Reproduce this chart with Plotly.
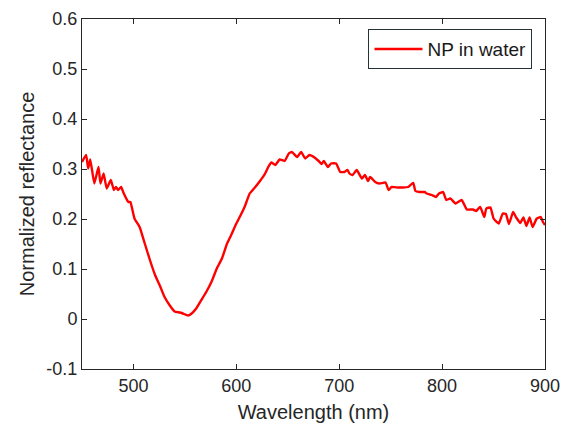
import plotly.graph_objects as go

# spectrum
wavelength = [450, 454, 456, 458, 462, 466, 468, 471, 474, 478, 481, 483, 485, 488,
              490, 493, 495, 497, 501, 506, 511, 516, 521, 526, 530, 535, 540, 545,
              548, 553, 556, 561, 566, 571, 576, 581, 586, 591, 595, 600, 605, 608,
              613, 618, 623, 628, 631, 634, 638, 642, 647, 651, 654, 659, 663, 667,
              671, 676, 680, 683, 685, 689, 692, 697, 701, 705, 708, 710, 713, 717,
              722, 725, 728, 730, 735, 739, 745, 748, 751, 757, 762, 767, 772, 774,
              778, 783, 785, 790, 794, 797, 801, 804, 808, 813, 819, 824, 830, 833,
              837, 841, 843, 847, 850, 855, 859, 862, 865, 869, 872, 876, 879, 882,
              885, 888, 892, 896, 898, 900]
reflectance = [0.314, 0.328, 0.301, 0.319, 0.271, 0.304, 0.271, 0.291, 0.261, 0.278,
               0.258, 0.264, 0.258, 0.264, 0.254, 0.241, 0.234, 0.234, 0.201, 0.184,
               0.151, 0.118, 0.088, 0.065, 0.045, 0.028, 0.015, 0.013, 0.011, 0.007,
               0.010, 0.021, 0.038, 0.055, 0.075, 0.101, 0.121, 0.151, 0.168, 0.191,
               0.211, 0.224, 0.251, 0.263, 0.276, 0.291, 0.304, 0.313, 0.308, 0.319,
               0.316, 0.331, 0.334, 0.324, 0.334, 0.321, 0.328, 0.323, 0.316, 0.310,
               0.316, 0.304, 0.311, 0.311, 0.294, 0.294, 0.298, 0.291, 0.288, 0.298,
               0.281, 0.288, 0.276, 0.284, 0.274, 0.271, 0.273, 0.258, 0.264, 0.263,
               0.263, 0.264, 0.272, 0.256, 0.254, 0.254, 0.251, 0.248, 0.244, 0.251,
               0.254, 0.238, 0.241, 0.231, 0.238, 0.219, 0.219, 0.216, 0.224, 0.204,
               0.221, 0.223, 0.201, 0.191, 0.211, 0.210, 0.190, 0.214, 0.203, 0.192,
               0.203, 0.186, 0.203, 0.184, 0.201, 0.204, 0.194, 0.188]

x_ticks = [500, 600, 700, 800, 900]
y_ticks = [-0.1, 0, 0.1, 0.2, 0.3, 0.4, 0.5, 0.6]
y_tick_text = ['-0.1', '0', '0.1', '0.2', '0.3', '0.4', '0.5', '0.6']

fig = go.Figure()
fig.add_trace(go.Scatter(x=wavelength, y=reflectance, mode='lines', name='NP in water',
                         line=dict(color='#ff0000', width=2.4, shape='spline', smoothing=0.4)))

axis_style = dict(showline=True, linecolor='#262626', linewidth=1, mirror='allticks',
                  ticks='inside', ticklen=5, tickcolor='#262626', showgrid=False,
                  zeroline=False, automargin=False,
                  tickfont=dict(size=18, color='#262626'))

# page body has an 8px margin, so the figure is a bit smaller than the window
fig.update_layout(
    width=560, height=423,
    margin=dict(l=74, r=23, t=11, b=62),
    paper_bgcolor='white', plot_bgcolor='white',
    font=dict(family='Liberation Sans, Arial, sans-serif', color='#262626'),
    xaxis=dict(range=[450, 900], tickvals=x_ticks,
               title=dict(text='Wavelength (nm)', font=dict(size=20), standoff=10),
               **axis_style),
    yaxis=dict(range=[-0.1, 0.6], tickvals=y_ticks, ticktext=y_tick_text,
               title=dict(text='Normalized reflectance', font=dict(size=20), standoff=6),
               **axis_style),
    legend=dict(x=0.973, y=0.971, xanchor='right', yanchor='top', itemwidth=48,
                bgcolor='white', bordercolor='#263238', borderwidth=1,
                font=dict(size=19, color='#1a1a1a')),
    showlegend=True,
)

fig.write_html("out.html")
